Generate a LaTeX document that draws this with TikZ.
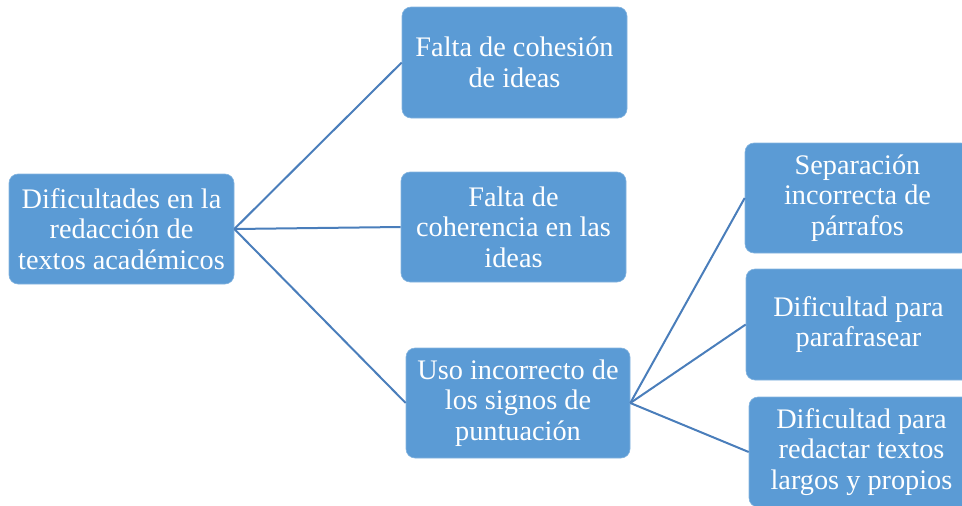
\documentclass[tikz,border=0pt]{standalone}
\usepackage{fontspec}
\setmainfont{Liberation Serif}
\definecolor{boxfill}{HTML}{5B9BD5}
\definecolor{linkcol}{HTML}{4A7EBB}
\begin{document}
\begin{tikzpicture}[x=1pt,y=-1pt,
  box/.style={draw=boxfill!75!white, line width=0.6pt, fill=boxfill, rounded corners=9pt,
    minimum width=225pt, minimum height=110pt, text=white, align=center,
    font=\fontsize{28.3}{30.5}\selectfont, inner sep=0pt},
  link/.style={draw=linkcol, line width=2pt}]
\useasboundingbox (0,0) rectangle (962,506);
\clip (0,0) rectangle (962,506);
\node[box] (root) at (121.5,229) {Dificultades en la\\redacción de\\textos académicos};
\node[box, minimum height=111pt] (a) at (514.5,62.5) {Falta de cohesión\\de ideas};
\node[box] (b) at (513.5,227) {Falta de\\coherencia en las\\ideas};
\node[box, minimum width=224pt] (c) at (518,403) {Uso incorrecto de\\los signos de\\puntuación};
\node[box] (s1) at (857.5,198) {Separación\\incorrecta de\\párrafos};
\node[box, minimum height=111pt] (s2) at (858.5,324.5) {Dificultad para\\parafrasear};
\node[box] (s3) at (861.5,452) {Dificultad para\\redactar textos\\largos y propios};
\draw[link] (root.east) -- (a.west);
\draw[link] (root.east) -- (b.west);
\draw[link] (root.east) -- (c.west);
\draw[link] (c.east) -- (s1.west);
\draw[link] (c.east) -- (s2.west);
\draw[link] (c.east) -- (s3.west);
\end{tikzpicture}
\end{document}
